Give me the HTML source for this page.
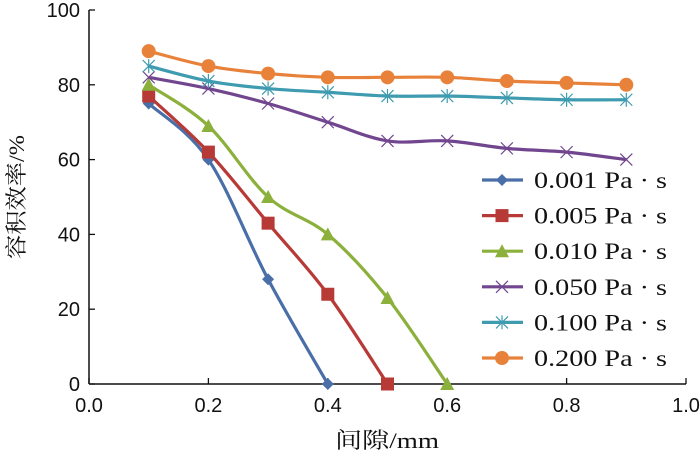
<!DOCTYPE html>
<html><head><meta charset="utf-8"><style>
html,body{margin:0;padding:0;background:#fff}
svg{display:block}
text{font-family:"Liberation Serif","Noto Serif CJK SC",serif;fill:#111}
.tick{font-family:"Liberation Sans","Noto Sans CJK SC",sans-serif}
</style></head><body>
<svg id="chart" width="700" height="463" viewBox="0 0 700 463" xmlns="http://www.w3.org/2000/svg">
<g id="axes"></g><g id="series"></g><g id="legend"></g>
<text x="387" y="448" font-size="22" text-anchor="middle" textLength="104" lengthAdjust="spacingAndGlyphs">间隙/mm</text>
<text transform="translate(24,197) rotate(-90)" font-size="22" text-anchor="middle" textLength="124" lengthAdjust="spacingAndGlyphs">容积效率/%</text>
</svg>
<script>
const xTicks=[0,0.2,0.4,0.6,0.8,1.0];
const xTickLabels=["0.0","0.2","0.4","0.6","0.8","1.0"];
const yTicks=[0,20,40,60,80,100];
const yTickLabels=["0","20","40","60","80","100"];
const seriesNames=["0.001 Pa · s","0.005 Pa · s","0.010 Pa · s","0.050 Pa · s","0.100 Pa · s","0.200 Pa · s"];
const xs001=[0.1,0.2,0.3,0.4];
const ys001=[75,60,28,0];
const xs005=[0.1,0.2,0.3,0.4,0.5];
const ys005=[77,62,43,24,0];
const xs010=[0.1,0.2,0.3,0.4,0.5,0.6];
const ys010=[80,69,50,40,23,0];
const xsLong=[0.1,0.2,0.3,0.4,0.5,0.6,0.7,0.8,0.9];
const ys050=[82,79,75,70,65,65,63,62,60];
const ys100=[85,81,79,78,77,77,76.5,76,76];
const ys200=[89,85,83,82,82,82,81,80.5,80];
const colors=["#4a6fa8","#b83a36","#8cb03c","#71468f","#3e9bb0","#e8823a"];
const markers=["diamond","square","triangle","x","star","circle"];

const NS="http://www.w3.org/2000/svg";
const X0=89,X1=686,Y0=384,Y1=10;
const sx=v=>X0+(v-0)/(1.0-0)*(X1-X0);
const sy=v=>Y0-(v-0)/(100-0)*(Y0-Y1);
function mk(tag,attrs,parent){const e=document.createElementNS(NS,tag);for(const k in attrs)e.setAttribute(k,attrs[k]);parent.appendChild(e);return e;}
const axes=document.getElementById('axes');
const ya=mk('line',{x1:X0,y1:Y1,x2:X0,y2:Y0,stroke:'#111','stroke-width':1.5},axes);


const xa=mk('line',{x1:X0,y1:Y0,x2:X1,y2:Y0,stroke:'#111','stroke-width':1.5},axes);


xTicks.forEach((t,i)=>{
  mk('line',{x1:sx(t),y1:Y0,x2:sx(t),y2:Y0-6,stroke:'#111','stroke-width':1.3},axes);
  const tx=mk('text',{x:sx(t),y:Y0+28,'font-size':20,'text-anchor':'middle','class':'tick'},axes);
  tx.textContent=xTickLabels[i];
  
  
});
yTicks.forEach((t,i)=>{
  mk('line',{x1:X0,y1:sy(t),x2:X0+6,y2:sy(t),stroke:'#111','stroke-width':1.3},axes);
  const tx=mk('text',{x:X0-9,y:sy(t)+7,'font-size':20,'text-anchor':'end','class':'tick'},axes);
  tx.textContent=yTickLabels[i];
  
  
});
function smooth(pts){
  let d=`M${pts[0][0]},${pts[0][1]}`;
  for(let i=0;i<pts.length-1;i++){
    const p0=pts[i-1]||pts[i],p1=pts[i],p2=pts[i+1],p3=pts[i+2]||p2,t=0.17;
    d+=` C${p1[0]+(p2[0]-p0[0])*t},${p1[1]+(p2[1]-p0[1])*t} ${p2[0]-(p3[0]-p1[0])*t},${p2[1]-(p3[1]-p1[1])*t} ${p2[0]},${p2[1]}`;
  }
  return d;
}
function marker(g,type,x,y,c){
  if(type==='diamond')mk('polygon',{points:`${x},${y-6} ${x+6},${y} ${x},${y+6} ${x-6},${y}`,fill:c},g);
  else if(type==='square')mk('rect',{x:x-6.5,y:y-6.5,width:13,height:13,fill:c},g);
  else if(type==='triangle')mk('polygon',{points:`${x},${y-7} ${x+7},${y+6} ${x-7},${y+6}`,fill:c},g);
  else if(type==='circle')mk('circle',{cx:x,cy:y,r:7,fill:c},g);
  else if(type==='x'){mk('path',{d:`M${x-6},${y-6}L${x+6},${y+6}M${x+6},${y-6}L${x-6},${y+6}`,stroke:c,'stroke-width':1.2},g);}
  else {mk('path',{d:`M${x-6},${y-6}L${x+6},${y+6}M${x+6},${y-6}L${x-6},${y+6}M${x},${y-7}L${x},${y+7}`,stroke:c,'stroke-width':1.2},g);}
}
const allX=[xs001,xs005,xs010,xsLong,xsLong,xsLong];
const allY=[ys001,ys005,ys010,ys050,ys100,ys200];
const sg=document.getElementById('series');
allY.forEach((ys,si)=>{
  const g=mk('g',{},sg);
  
  
  const pts=ys.map((v,i)=>[sx(allX[si][i]),sy(v)]);
  mk('path',{d:smooth(pts),fill:'none',stroke:colors[si],'stroke-width':3.2},g);
  pts.forEach(p=>marker(g,markers[si],p[0],p[1],colors[si]));
});
const lg=document.getElementById('legend');
seriesNames.forEach((n,i)=>{
  const y=180+i*35.6;
  const g=mk('g',{},lg);
  
  
  mk('line',{x1:482,y1:y,x2:523,y2:y,stroke:colors[i],'stroke-width':3.2},g);
  marker(g,markers[i],502,y,colors[i]);
  const t=mk('text',{x:534,y:y+8,'font-size':23,textLength:133,lengthAdjust:'spacingAndGlyphs'},g);
  t.textContent=n;
});
</script>
</body></html>
